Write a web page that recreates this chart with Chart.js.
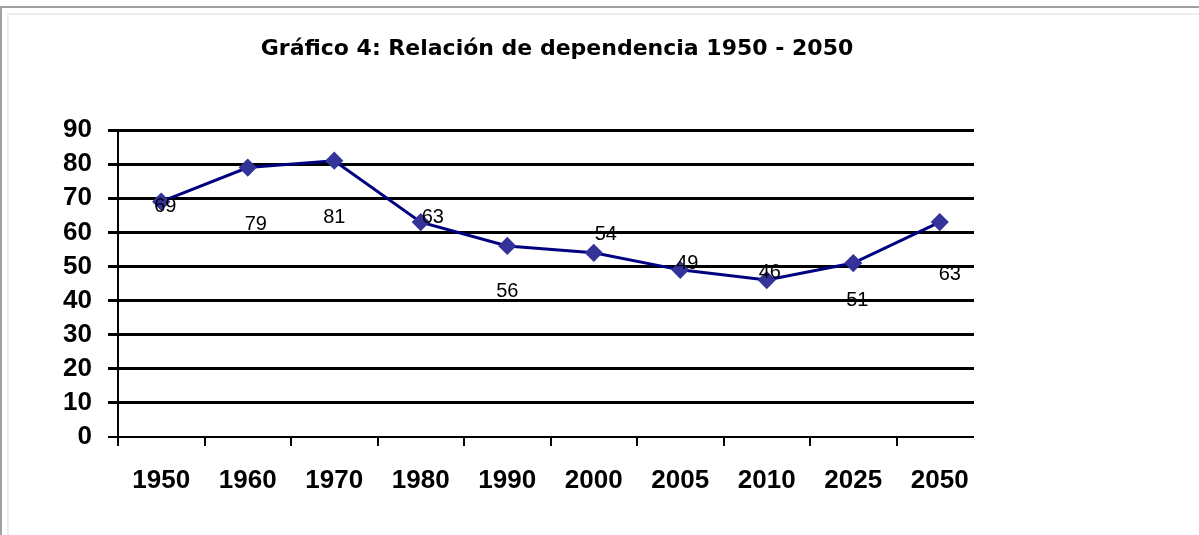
<!DOCTYPE html>
<html>
<head>
<meta charset="utf-8">
<script src="https://cdn.jsdelivr.net/npm/chart.js@4"></script>
<style>
  html, body { margin:0; padding:0; background:#fff; }
  body { width:1199px; height:535px; overflow:hidden; position:relative; }
  /* frame of the embedded sheet: gray top/left edge plus a faint inner line */
  .frame { position:absolute; left:0; top:6px; width:1199px; height:529px;
           border-top:2px solid #a0a0a0; border-left:2px solid #a0a0a0; box-sizing:border-box; }
  .frame-in { position:absolute; left:7px; top:13px; width:1192px; height:522px;
              border-top:2px solid #eeeeee; border-left:2px solid #eeeeee; box-sizing:border-box; }
  #wrap { position:absolute; left:0; top:0; width:1199px; height:535px; }
</style>
</head>
<body>
<div class="frame"></div>
<div class="frame-in"></div>
<div id="wrap"><canvas id="chart"></canvas></div>
<script>
// ---- data ----
const years = ['1950','1960','1970','1980','1990','2000','2005','2010','2025','2050'];
const dependencia = [69, 79, 81, 63, 56, 54, 49, 46, 51, 63];
const yTicks = [0, 10, 20, 30, 40, 50, 60, 70, 80, 90];
const titulo = 'Gráfico 4: Relación de dependencia 1950 - 2050';

// where each value label sits relative to its point (px), as in the original sheet
const labelShift = [[4,5],[8,57],[0,57],[12,-5],[0,46],[12,-18],[7,-6],[3,-8],[4,37],[10,52]];

const valueLabels = {
  id: 'valueLabels',
  afterDatasetsDraw(chart) {
    const { ctx } = chart;
    const meta = chart.getDatasetMeta(0);
    ctx.save();
    ctx.font = '20px "Liberation Sans", Arial, sans-serif';
    ctx.fillStyle = '#000';
    ctx.textAlign = 'center';
    ctx.textBaseline = 'middle';
    meta.data.forEach((pt, i) => {
      const [dx, dy] = labelShift[i];
      ctx.fillText(String(dependencia[i]), pt.x + dx, pt.y + dy);
    });
    ctx.restore();
  }
};

// in the sheet the grid/axis stop ~10px short of the last category band
const trimGrid = {
  id: 'trimGrid',
  beforeDatasetsDraw(chart) {
    const { ctx, chartArea: a } = chart;
    ctx.save();
    ctx.fillStyle = '#fff';
    ctx.fillRect(a.right - 9, a.top - 3, 14, a.bottom - a.top + 16);
    ctx.restore();
  }
};

// title sits a bit right of the plot centre in the original sheet
const sheetTitle = {
  id: 'sheetTitle',
  afterDraw(chart) {
    const { ctx } = chart;
    ctx.save();
    ctx.font = 'bold 22px "DejaVu Sans", sans-serif';
    ctx.fillStyle = '#000';
    ctx.textAlign = 'center';
    ctx.textBaseline = 'alphabetic';
    ctx.fillText(titulo, 557, 55);
    ctx.restore();
  }
};

const boldFont = { family: '"Liberation Sans", Arial, sans-serif', size: 26, weight: 'bold' };

new Chart(document.getElementById('chart'), {
  type: 'line',
  data: {
    labels: years,
    datasets: [{
      data: dependencia,
      borderColor: '#000080',
      borderWidth: 3,
      pointStyle: 'rectRot',
      pointRadius: 7,
      pointBackgroundColor: '#333399',
      pointBorderColor: '#333399',
      tension: 0,
    }]
  },
  options: {
    responsive: true,
    maintainAspectRatio: false,
    animation: false,
    layout: { padding: { left: 0, top: 130, right: 216, bottom: 0 } },
    plugins: {
      legend: { display: false },
      tooltip: { enabled: false },
      title: { display: false }
    },
    scales: {
      x: {
        offset: true,
        grid: { offset: true, drawOnChartArea: false, drawTicks: true, tickLength: 9, color: '#000', lineWidth: 2 },
        border: { display: true, color: '#000', width: 2 },
        ticks: { color: '#000', font: boldFont, padding: 19, maxRotation: 0, autoSkip: false },
        afterFit(scale) { scale.height = 98; }
      },
      y: {
        min: 0, max: 90,
        afterBuildTicks(scale) { scale.ticks = yTicks.map(v => ({ value: v })); },
        grid: {
          color: '#000',
          lineWidth: c => (c.tick && c.tick.value === 0 ? 2 : 3),
          drawTicks: true, tickLength: 10,
        },
        border: { display: true, color: '#000', width: 2 },
        ticks: { color: '#000', font: boldFont, padding: 16, autoSkip: false },
        afterFit(scale) { scale.width = 118; }
      }
    }
  },
  plugins: [trimGrid, valueLabels, sheetTitle]
});
</script>
</body>
</html>
